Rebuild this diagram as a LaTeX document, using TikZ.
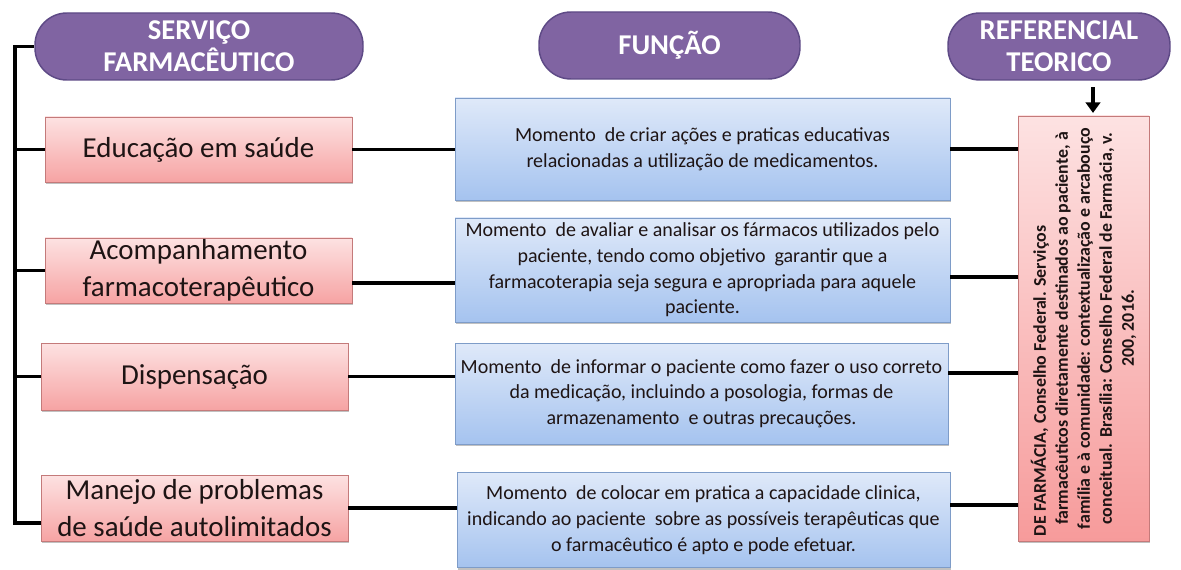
\documentclass[tikz,border=0pt]{standalone}
\usepackage{fontspec}
\setmainfont{Carlito}
\usetikzlibrary{shadows,arrows.meta}
\definecolor{purp}{HTML}{8064A2}
\definecolor{purpd}{HTML}{5E4A86}
\definecolor{pinkt}{HTML}{FDE2E2}
\definecolor{pinkb}{HTML}{F6A3A3}
\definecolor{pinkd}{HTML}{C47A7A}
\definecolor{bluet}{HTML}{DFE9F9}
\definecolor{blueb}{HTML}{A5C3EF}
\definecolor{blued}{HTML}{7E9CC8}
\definecolor{inkk}{HTML}{1E1414}
\begin{document}
\begin{tikzpicture}[x=0.75pt,y=-0.75pt,
  sz/.style 2 args={minimum width=#1*0.75pt, minimum height=#2*0.75pt},
  hdr/.style={draw=purpd, line width=1.1pt, fill=purp, rounded corners=24pt,
    text=white, font=\bfseries\fontsize{21.5}{24}\selectfont, align=center, inner sep=0pt},
  pinkbox/.style={draw=pinkd, line width=0.6pt, top color=pinkt, bottom color=pinkb,
    drop shadow={shadow xshift=1pt, shadow yshift=-1.8pt, opacity=0.35, fill=black!70},
    text=inkk, font=\fontsize{21.7}{27.5}\selectfont, align=center, inner sep=0pt},
  bluebox/.style={draw=blued, line width=0.6pt, top color=bluet, bottom color=blueb,
    drop shadow={shadow xshift=1pt, shadow yshift=-1.8pt, opacity=0.35, fill=black!70},
    text=inkk, font=\fontsize{15}{19.3}\selectfont, align=center, inner sep=0pt},
  link/.style={line width=2.3pt, draw=black}
]
\useasboundingbox (0,0) rectangle (1181,570);

% headers
\node[hdr, sz={328}{67}] (s) at (199,46.5) {SERVIÇO\\FARMACÊUTICO};
\node[hdr, sz={261}{67}] (f) at (669.5,45.5) {FUNÇÃO};
\node[hdr, sz={222}{67}] (r) at (1059,46.5) {REFERENCIAL\\TEORICO};

% services
\node[pinkbox, sz={307}{65}] (e1) at (198.5,149.5) {Educação em saúde};
\node[pinkbox, sz={307}{65}] (e2) at (198.5,270.5) {Acompanhamento\\farmacoterapêutico};
\node[pinkbox, sz={307}{67}] (e3) at (194.5,376.5) {Dispensação};
\node[pinkbox, sz={307}{66}] (e4) at (194.5,508) {Manejo de problemas\\de saúde autolimitados};

% functions
\node[bluebox, sz={495}{102}] (b1) at (702.5,149) {Momento\ \ de criar ações e praticas educativas\\relacionadas a utilização de medicamentos.};
\node[bluebox, sz={495}{104}] (b2) at (702.5,270) {Momento\ \ de avaliar e analisar os fármacos utilizados pelo\\paciente, tendo como objetivo\ \ garantir que a\\farmacoterapia seja segura e apropriada para aquele\\paciente.};
\node[bluebox, sz={493}{101}] (b3) at (701.5,393.5) {Momento\ \ de informar o paciente como fazer o uso correto\\da medicação, incluindo a posologia, formas de\\armazenamento\ \ e outras precauções.};
\node[bluebox, sz={493}{95}] (b4) at (703.5,520) {Momento\ \ de colocar em pratica a capacidade clinica,\\indicando ao paciente\ \ sobre as possíveis terapêuticas que\\o farmacêutico é apto e pode efetuar.};

% reference
\node[draw=pinkd, line width=0.6pt, top color=pinkt, bottom color=pinkb!95!red,
  drop shadow={shadow xshift=1pt, shadow yshift=-1.8pt, opacity=0.35, fill=black!70},
  inner sep=0pt, sz={131}{425}] (ref) at (1083.5,328.5) {};
\node[rotate=90, inner sep=0pt, text width=415*0.75pt, align=flush center, text=inkk,
  font=\bfseries\fontsize{13.4}{16.5}\selectfont] (reft) at (ref.center)
  {DE FARMÁCIA, Conselho Federal. Serviços\hfill\null\\
   farmacêuticos diretamente destinados ao paciente, à\\
   família e à comunidade: contextualização e arcabouço\\
   conceitual. Brasília: Conselho Federal de Farmácia, v.\\
   200, 2016.};

% trunk
\coordinate (t4) at (15,523);
\draw[link] (s.west) -| (t4) -- (e4.west |- t4);
\draw[link] (e1.west) -- (e1.west -| t4);
\draw[link] (e2.west) -- (e2.west -| t4);
\draw[link] (e3.west) -- (e3.west -| t4);

% services -> functions
\draw[link] (e1.east) -- (e1.east -| b1.west);
\draw[link] (e2.east |- 0,283) -- (b2.west |- 0,283);
\draw[link] (e3.east) -- (e3.east -| b3.west);
\draw[link] (e4.east) -- (e4.east -| b4.west);

% functions -> reference
\draw[link] (b1.east) -- (b1.east -| ref.west);
\draw[link] (b2.east |- 0,277) -- (ref.west |- 0,277);
\draw[link] (b3.east |- 0,373) -- (ref.west |- 0,373);
\draw[link] (b4.east |- 0,505) -- (ref.west |- 0,505);

% arrow
\coordinate (ax) at (1093,0);
\draw[line width=2.3pt, shorten <=5pt, shorten >=2pt, -{Triangle[length=8pt,width=11pt]}]
  (r.south -| ax) -- (ref.north -| ax);
\end{tikzpicture}
\end{document}
